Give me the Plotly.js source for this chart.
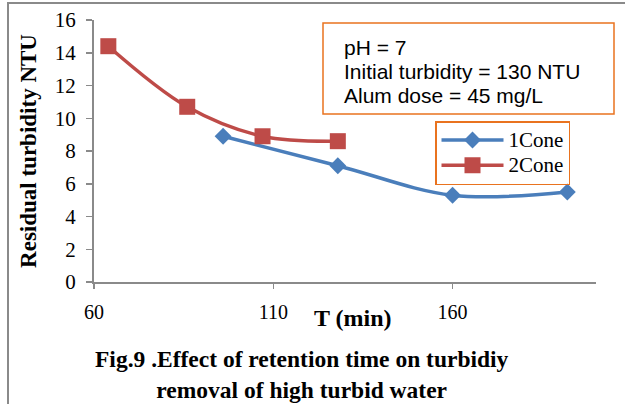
<!DOCTYPE html>
<html>
<head>
<meta charset="utf-8">
<script src="https://cdn.plot.ly/plotly-3.0.1.min.js"></script>
<style>
  html, body { margin: 0; padding: 0; background: #fff; }
  #wrap { position: relative; width: 625px; height: 404px; overflow: hidden; }
  #chart { position: absolute; left: 0; top: 0; width: 625px; height: 404px; }
  #frame { position: absolute; left: 7px; top: 2px; width: 640px; height: 420px;
           border-left: 2px solid #8a8a8a; border-top: 2px solid #8a8a8a; pointer-events: none; }
</style>
</head>
<body>
<div id="wrap">
  <div id="chart"></div>
  <div id="frame"></div>
</div>
<script>
// Data
const cone1Time = [96, 128, 160, 192];
const cone1Turbidity = [8.9, 7.1, 5.3, 5.5];
const cone2Time = [64, 86, 107, 128];
const cone2Turbidity = [14.4, 10.7, 8.9, 8.6];
const seriesNames = ["1Cone", "2Cone"];
const xTicks = [60, 110, 160];
const yTicks = [0, 2, 4, 6, 8, 10, 12, 14, 16];
const noteLines = ["pH = 7", "Initial turbidity = 130 NTU", "Alum dose = 45 mg/L"];

const serif = "'Liberation Serif', 'Times New Roman', serif";
const sans = "'Liberation Sans', Arial, sans-serif";
const orange = "#E9731F";

const traces = [
  {
    x: cone1Time, y: cone1Turbidity, name: "<span style='font-size:21px'>" + seriesNames[0] + "</span>",
    type: "scatter", mode: "lines+markers",
    line: { color: "#4A7EBB", width: 3.5, shape: "spline", smoothing: 1 },
    marker: { symbol: "diamond", size: 13, color: "#4A7EBB" }
  },
  {
    x: cone2Time, y: cone2Turbidity, name: "<span style='font-size:21px'>" + seriesNames[1] + "</span>",
    type: "scatter", mode: "lines+markers",
    line: { color: "#BE4B48", width: 3.5, shape: "spline", smoothing: 1 },
    marker: { symbol: "square", size: 16, color: "#BE4B48" }
  }
];

const L = 94, R = 596, T = 20, B = 282;
const px = v => (v - L) / (R - L);
const py = v => (B - v) / (B - T);

const noteY = [47, 71, 95];
const notes = noteLines.map((t, i) => ({
  xref: "paper", yref: "paper", x: px(342), y: py(noteY[i]), xanchor: "left", yanchor: "middle",
  align: "left", showarrow: false, text: t,
  font: { family: sans, size: 21, color: "#000" }
}));

const layout = {
  width: 625, height: 404,
  margin: { l: L, r: 625 - R, t: T, b: 404 - B, pad: 0 },
  paper_bgcolor: "#ffffff", plot_bgcolor: "#ffffff",
  showlegend: true,
  legend: {
    x: px(435), y: py(121), xanchor: "left", yanchor: "top",
    bordercolor: orange, borderwidth: 1.5, bgcolor: "rgba(255,255,255,0)",
    font: { family: serif, size: 17, color: "#000" },
    itemwidth: 62, tracegroupgap: 0,
    entrywidth: 160, entrywidthmode: "pixels"
  },
  xaxis: {
    range: [60, 200], tickvals: xTicks, ticktext: xTicks.map(String),
    showgrid: false, zeroline: false,
    showline: true, linecolor: "#8a8a8a", linewidth: 2,
    ticks: "outside", ticklen: 5, tickwidth: 1.5, tickcolor: "#8a8a8a",
    ticklabelstandoff: 6,
    tickfont: { family: serif, size: 20, color: "#000" },
    fixedrange: true
  },
  yaxis: {
    range: [0, 16], tickvals: yTicks,
    showgrid: false, zeroline: false,
    showline: true, linecolor: "#8a8a8a", linewidth: 2,
    ticks: "outside", ticklen: 6, tickwidth: 1.5, tickcolor: "#8a8a8a",
    ticklabelstandoff: 6,
    tickfont: { family: serif, size: 21, color: "#000" },
    title: { text: "<b>Residual turbidity NTU</b>", font: { family: serif, size: 23, color: "#000" }, standoff: 12 },
    automargin: false,
    fixedrange: true
  },
  shapes: [
    { type: "rect", xref: "paper", yref: "paper",
      x0: px(323), x1: px(614), y0: py(114), y1: py(23),
      line: { color: orange, width: 1.5 }, fillcolor: "rgba(0,0,0,0)" }
  ],
  annotations: notes.concat([
    { xref: "paper", yref: "paper", x: px(353), y: py(318), xanchor: "center", yanchor: "middle",
      showarrow: false, text: "<b>T (min)</b>",
      font: { family: serif, size: 24, color: "#000" } },
    { xref: "paper", yref: "paper", x: px(302), y: py(374), xanchor: "center", yanchor: "middle",
      showarrow: false, align: "center",
      text: "<b>Fig.9 .Effect of retention time on turbidiy<br>removal of high turbid water</b>",
      font: { family: serif, size: 23.5, color: "#000" } }
  ])
};

Plotly.newPlot("chart", traces, layout, { displayModeBar: false, staticPlot: true });
</script>
</body>
</html>
